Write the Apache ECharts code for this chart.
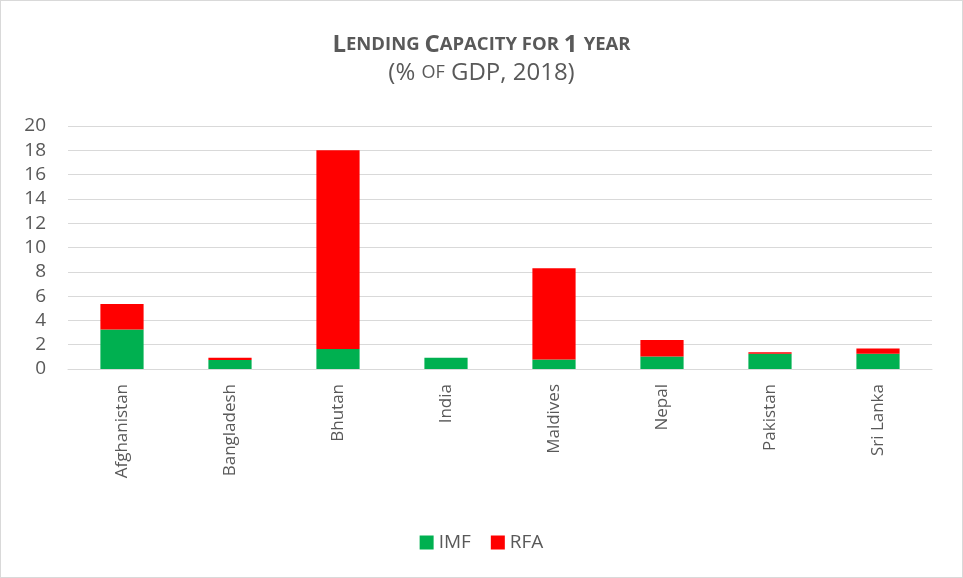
<!DOCTYPE html>
<html>
<head>
<meta charset="utf-8">
<script src="https://cdn.jsdelivr.net/npm/echarts@6/dist/echarts.min.js"></script>
<style>
  html, body { margin: 0; padding: 0; background: #fff; }
  #chart { width: 963px; height: 578px; box-sizing: border-box; border: 1px solid #d9d9d9; }
</style>
</head>
<body>
<div id="chart"></div>
<script>
// Lending capacity for one year, % of GDP (2018)
const countries = ['Afghanistan', 'Bangladesh', 'Bhutan', 'India', 'Maldives', 'Nepal', 'Pakistan', 'Sri Lanka'];
const imfValues = [3.25, 0.75, 1.65, 0.92, 0.78, 1.02, 1.25, 1.25];
const rfaValues = [2.10, 0.17, 16.35, 0, 7.52, 1.37, 0.13, 0.43];
const yTicks = [0, 2, 4, 6, 8, 10, 12, 14, 16, 18, 20];

const FONT = '"Open Sans", "Liberation Sans", sans-serif';
const TEXT = '#595959';

const chart = echarts.init(document.getElementById('chart'), null, { renderer: 'canvas' });

chart.setOption({
  animation: false,
  textStyle: { fontFamily: FONT },
  title: {
    left: 'center',
    top: 27,
    text: '{b|L}{s|ENDING }{b|C}{s|APACITY FOR }{b|1 }{s|YEAR}',
    subtext: '{n|(% }{m|OF}{n| GDP, 2018)}',
    itemGap: 4,
    textStyle: {
      rich: {
        b: { fontFamily: FONT, fontSize: 24, fontWeight: 'bold', color: TEXT },
        s: { fontFamily: FONT, fontSize: 18.5, fontWeight: 'bold', color: TEXT }
      }
    },
    subtextStyle: {
      rich: {
        n: { fontFamily: FONT, fontSize: 24, color: TEXT },
        m: { fontFamily: FONT, fontSize: 18, color: TEXT }
      }
    }
  },
  legend: {
    bottom: 20,
    left: 'center',
    itemWidth: 14,
    itemHeight: 14,
    itemGap: 20,
    icon: 'rect',
    textStyle: { fontFamily: FONT, fontSize: 19, color: TEXT },
    data: ['IMF', 'RFA']
  },
  grid: { left: 67, right: 30, top: 125, bottom: 208 },
  xAxis: {
    type: 'category',
    data: countries,
    axisLine: { show: true, lineStyle: { color: '#d9d9d9', width: 1 } },
    axisTick: { show: false },
    axisLabel: {
      rotate: 90,
      margin: 15,
      fontFamily: FONT,
      fontSize: 17,
      color: TEXT
    }
  },
  yAxis: {
    type: 'value',
    min: yTicks[0],
    max: yTicks[yTicks.length - 1],
    interval: yTicks[1] - yTicks[0],
    axisLine: { show: false },
    axisTick: { show: false },
    splitLine: { lineStyle: { color: '#d9d9d9', width: 1 } },
    axisLabel: {
      margin: 22,
      fontFamily: FONT,
      fontSize: 19,
      color: TEXT
    }
  },
  series: [
    {
      name: 'IMF',
      type: 'bar',
      stack: 'total',
      barWidth: '40%',
      itemStyle: { color: '#00b050' },
      data: imfValues
    },
    {
      name: 'RFA',
      type: 'bar',
      stack: 'total',
      barWidth: '40%',
      itemStyle: { color: '#ff0000' },
      data: rfaValues
    }
  ]
});
</script>
</body>
</html>
